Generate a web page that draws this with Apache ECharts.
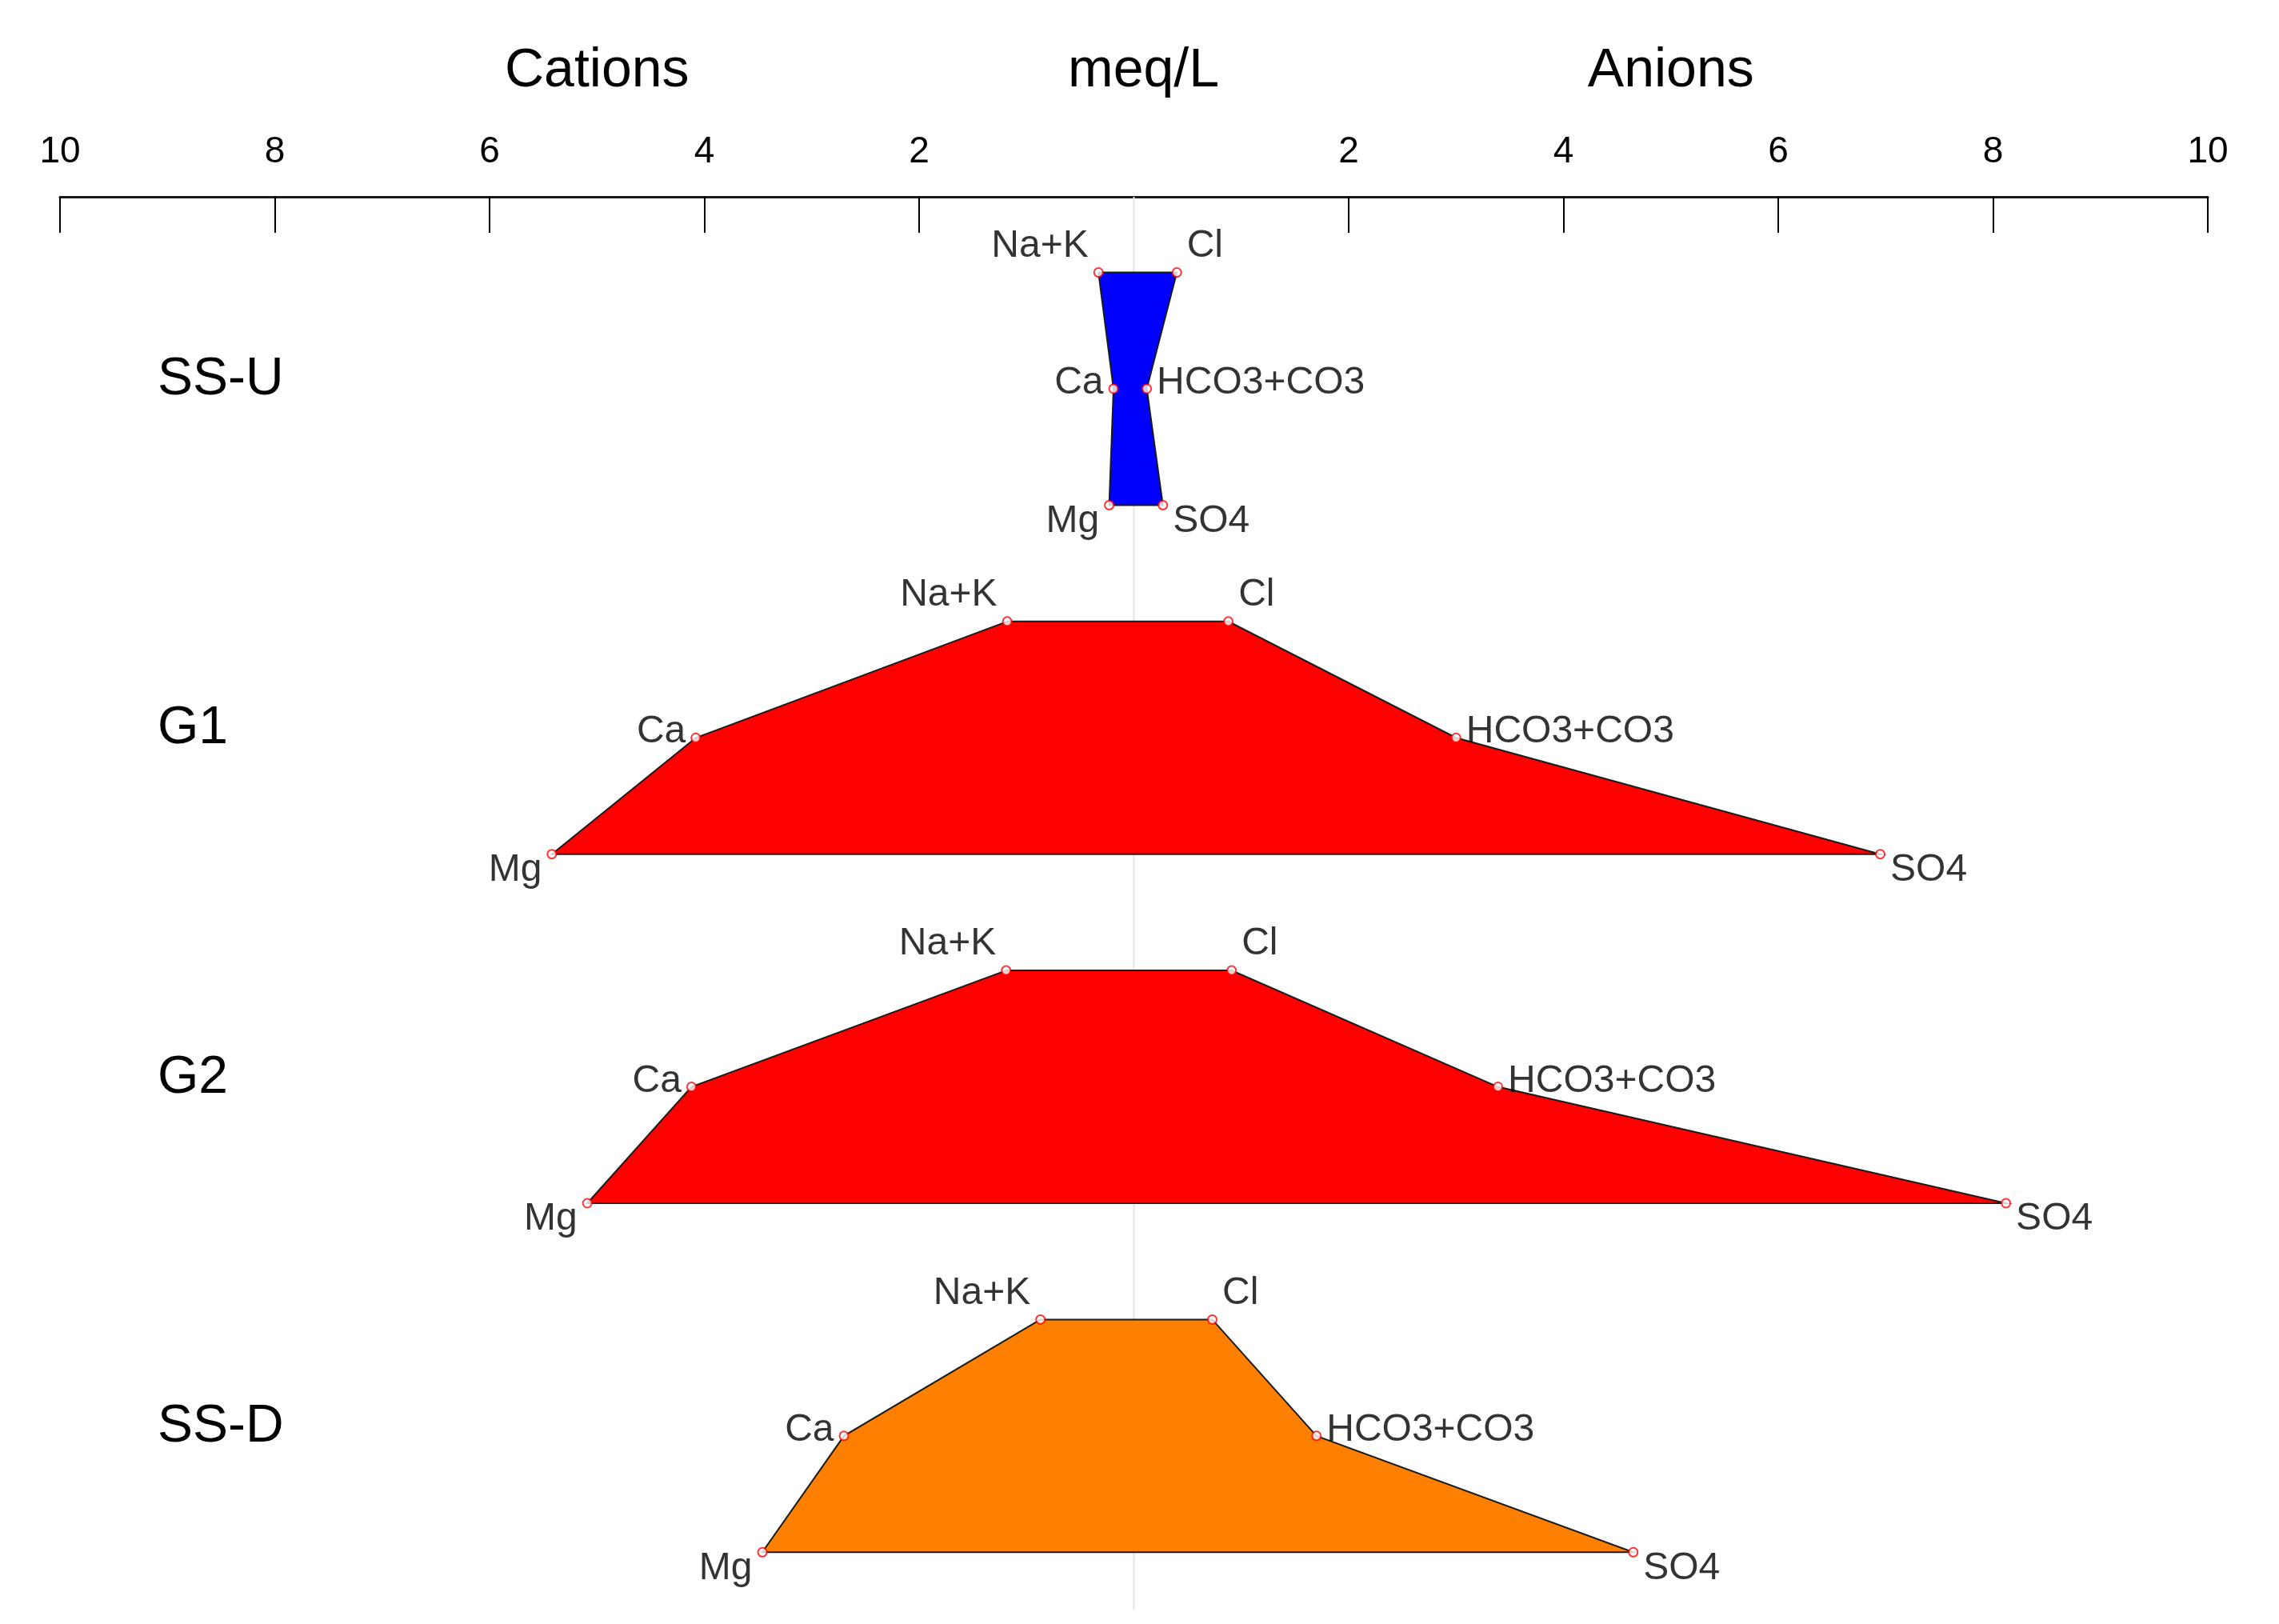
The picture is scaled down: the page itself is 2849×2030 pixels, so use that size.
<!DOCTYPE html>
<html>
<head>
<meta charset="utf-8">
<script src="https://cdn.jsdelivr.net/npm/echarts@6/dist/echarts.min.js"></script>
<style>
html,body{margin:0;padding:0;background:#fff;}
#c{width:2849px;height:2030px;}
</style>
</head>
<body>
<div id="c"></div>
<script>
// ---- data (meq/L) ----
const groups = ['SS-U', 'G1', 'G2', 'SS-D'];
const naK  = [0.33, 1.18, 1.19, 0.87];
const ca   = [0.19, 4.08, 4.12, 2.70];
const mg   = [0.23, 5.42, 5.09, 3.46];
const cl   = [0.40, 0.88, 0.91, 0.73];
const hco3 = [0.12, 3.00, 3.39, 1.70];
const so4  = [0.27, 6.95, 8.12, 4.65];
const tickValues = [-10, -8, -6, -4, -2, 2, 4, 6, 8, 10];
const headerValues = [-5, 0, 5];
const headerLabels = ['Cations', 'meq/L', 'Anions'];
const groupColors = ['#0000FF', '#FF0000', '#FF0000', '#FF8000'];

const FONT = '"Liberation Sans", Arial, sans-serif';
const chart = echarts.init(document.getElementById('c'), null, {renderer: 'canvas'});

// level inside each group: 0 = Na+K/Cl, 1 = Ca/HCO3, 2 = Mg/SO4
function lvl(i, l) { return 3 * i + l; }

const ions = [
  {name: 'Na+K',      vals: naK,  sign: -1, level: 0, pos: 'left',  off: [0, -33]},
  {name: 'Ca',        vals: ca,   sign: -1, level: 1, pos: 'left',  off: [0, -7]},
  {name: 'Mg',        vals: mg,   sign: -1, level: 2, pos: 'left',  off: [0, 20]},
  {name: 'Cl',        vals: cl,   sign: 1,  level: 0, pos: 'right', off: [0, -33]},
  {name: 'HCO3+CO3',  vals: hco3, sign: 1,  level: 1, pos: 'right', off: [0, -7]},
  {name: 'SO4',       vals: so4,  sign: 1,  level: 2, pos: 'right', off: [0, 20]}
];

const pointSeries = ions.map(ion => ({
  type: 'scatter',
  name: ion.name,
  z: 5,
  symbol: 'emptyCircle',
  symbolSize: 11,
  itemStyle: {color: '#FF0000', borderColor: '#FF0000', borderWidth: 3},
  label: {
    show: true,
    position: ion.pos,
    distance: 6,
    offset: ion.off,
    formatter: ion.name,
    color: '#000',
    fontFamily: FONT,
    fontSize: 48
  },
  data: groups.map((g, i) => [ion.sign * ion.vals[i], lvl(i, ion.level)])
}));

const polygonSeries = {
  type: 'custom',
  z: 3,
  data: groups.map((g, i) => [i]),
  renderItem: function (params, api) {
    const i = api.value(0);
    const pts = [
      api.coord([-naK[i], lvl(i, 0)]),
      api.coord([-ca[i], lvl(i, 1)]),
      api.coord([-mg[i], lvl(i, 2)]),
      api.coord([so4[i], lvl(i, 2)]),
      api.coord([hco3[i], lvl(i, 1)]),
      api.coord([cl[i], lvl(i, 0)])
    ];
    return {
      type: 'polygon',
      shape: {points: pts},
      style: {fill: groupColors[i], stroke: '#1a1a1a', lineWidth: 2}
    };
  }
};

// faint vertical line at 0 meq/L, drawn under the polygons
const centerLine = {
  type: 'custom',
  z: 1,
  silent: true,
  data: [[0]],
  renderItem: function (params, api) {
    const p = api.coord([api.value(0), 0]);
    const cs = params.coordSys;
    return {
      type: 'line',
      shape: {x1: p[0], y1: cs.y, x2: p[0], y2: cs.y + cs.height},
      style: {stroke: '#e4e4e4', lineWidth: 2}
    };
  }
};

chart.setOption({
  backgroundColor: '#ffffff',
  animation: false,
  grid: {left: 75, right: 89, top: 246, bottom: 17, containLabel: false},
  xAxis: [
    {
      type: 'value', min: -10, max: 10, interval: 2, position: 'top',
      axisLine: {show: true, onZero: false, lineStyle: {color: '#1a1a1a', width: 3}},
      axisTick: {show: true, inside: true, length: 45, customValues: tickValues,
                 lineStyle: {color: '#000', width: 2}},
      axisLabel: {show: true, customValues: tickValues, margin: 33,
                  formatter: v => String(Math.abs(v)),
                  color: '#000', fontFamily: FONT, fontSize: 46},
      splitLine: {show: false}
    },
    {
      type: 'value', min: -10, max: 10, interval: 5, position: 'top',
      axisLine: {show: false, onZero: false}, axisTick: {show: false}, splitLine: {show: false},
      axisLabel: {show: true, customValues: headerValues, margin: 123,
                  formatter: v => {
                    const t = headerLabels[headerValues.indexOf(v)] || '';
                    return v === 0 ? '{m|' + t + '}' : t;
                  },
                  rich: {m: {fontFamily: FONT, fontSize: 68, color: '#000', padding: [0, 0, 0, 24]}},
                  color: '#000', fontFamily: FONT, fontSize: 68}
    }
  ],
  yAxis: {
    type: 'value', inverse: true, min: -0.65, max: 11.5, position: 'left',
    axisLine: {show: false, onZero: false}, axisTick: {show: false}, splitLine: {show: false},
    axisLabel: {
      show: true, customValues: groups.map((g, i) => lvl(i, 1)),
      formatter: v => groups[(v - 1) / 3] || '',
      align: 'left', margin: -122, verticalAlign: 'bottom', lineHeight: 22,
      color: '#000', fontFamily: FONT, fontSize: 66
    }
  },
  series: [centerLine, polygonSeries].concat(pointSeries)
});
</script>
</body>
</html>
